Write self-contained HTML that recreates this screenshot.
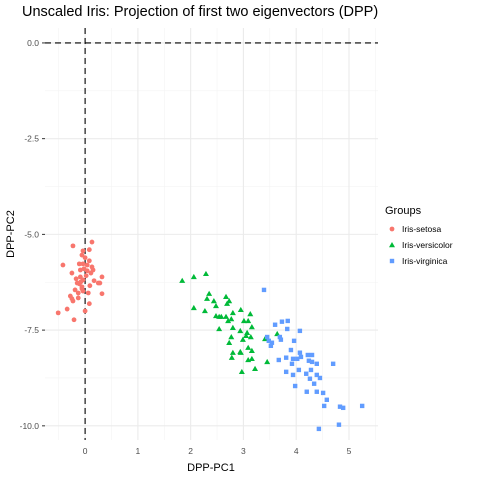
<!DOCTYPE html>
<html><head><meta charset="utf-8"><style>
body{margin:0;background:#fff;font-family:"Liberation Sans",sans-serif}
svg text{font-family:"Liberation Sans",sans-serif}
</style></head><body>
<svg id="chart" width="480" height="480">
<text x="22" y="16" font-size="14.5" fill="#000">Unscaled Iris: Projection of first two eigenvectors (DPP)</text>
<g id="grid"></g><g id="refs"></g><g id="pts"></g><g id="axes"></g>
<text x="211" y="471" font-size="11" text-anchor="middle">DPP-PC1</text>
<text transform="translate(14,234) rotate(-90)" font-size="11" text-anchor="middle">DPP-PC2</text>
<g>
<text x="385" y="214" font-size="11">Groups</text>
<g><circle cx="392" cy="229" r="2.4" fill="#F8766D"/><text x="402" y="232" font-size="8.5">Iris-setosa</text></g>
<g><polygon points="392,242 395,247.2 389,247.2" fill="#00BA38"/><text x="402" y="248" font-size="8.5">Iris-versicolor</text></g>
<g><rect x="389.8" y="258.8" width="4.4" height="4.4" fill="#619CFF"/><text x="402" y="264" font-size="8.5">Iris-virginica</text></g>
</g>
</svg>
<script>
const setosa=[[-0.23,-5.30],[0.13,-5.20],[0.08,-5.40],[-0.04,-5.43],[-0.06,-5.54],[-0.42,-5.80],[-0.11,-5.77],[-0.04,-5.77],[0.04,-5.80],[0.08,-5.69],[0.13,-5.85],[-0.02,-5.90],[0.15,-5.93],[-0.25,-6.01],[0.04,-5.95],[0.11,-6.01],[0.32,-6.11],[-0.17,-6.16],[-0.09,-6.11],[-0.04,-6.19],[0.17,-6.21],[0.25,-6.27],[0.28,-6.27],[-0.15,-6.27],[-0.11,-6.29],[-0.06,-6.37],[-0.06,-6.42],[-0.04,-6.48],[0.06,-6.53],[-0.13,-6.53],[0.32,-6.55],[-0.28,-6.61],[-0.13,-6.66],[-0.25,-6.68],[-0.23,-6.74],[0.08,-6.81],[-0.34,-6.95],[0.00,-7.00],[-0.51,-7.05],[-0.21,-7.23],[-0.09,-5.93],[0.02,-6.08],[-0.08,-6.24],[0.09,-6.34],[-0.19,-6.45],[0.00,-5.61]];
const versicolor=[[1.84,-6.21],[2.06,-6.11],[2.29,-6.03],[2.31,-6.68],[2.44,-6.74],[2.48,-6.87],[2.06,-6.92],[2.27,-7.00],[2.48,-7.13],[2.54,-7.15],[2.54,-7.47],[2.67,-6.63],[2.73,-6.74],[2.69,-6.81],[2.58,-7.15],[2.67,-7.15],[2.71,-7.26],[2.77,-7.21],[2.80,-7.05],[2.95,-6.97],[3.13,-7.08],[3.01,-7.26],[3.09,-7.26],[3.16,-7.42],[2.80,-7.44],[2.94,-7.52],[3.07,-7.57],[2.77,-7.68],[3.05,-7.65],[3.14,-7.68],[3.41,-7.73],[3.64,-7.60],[2.73,-7.83],[2.99,-7.75],[3.09,-7.96],[3.16,-8.04],[2.80,-8.09],[2.94,-8.07],[2.95,-8.09],[2.78,-8.22],[3.09,-8.28],[3.16,-8.25],[3.45,-8.33],[3.22,-8.51],[2.97,-8.59],[2.35,-6.55]];
const virginica=[[3.39,-6.45],[3.60,-7.36],[3.73,-7.28],[3.84,-7.26],[3.83,-7.47],[4.07,-7.52],[3.45,-7.68],[3.69,-7.68],[3.71,-7.75],[3.48,-7.78],[3.54,-7.83],[3.52,-7.91],[3.96,-7.78],[3.90,-8.02],[4.07,-8.09],[4.09,-8.20],[4.22,-8.15],[4.30,-8.15],[3.67,-8.28],[3.81,-8.22],[3.94,-8.25],[4.02,-8.25],[4.24,-8.30],[4.30,-8.33],[4.39,-8.38],[3.92,-8.38],[4.70,-8.38],[3.81,-8.59],[4.05,-8.54],[4.28,-8.54],[3.94,-8.67],[4.19,-8.64],[4.39,-8.67],[4.45,-8.75],[4.26,-8.77],[4.34,-8.90],[3.98,-8.96],[4.20,-9.11],[4.39,-9.11],[4.51,-9.14],[4.58,-9.32],[4.53,-9.48],[4.83,-9.50],[4.89,-9.53],[5.25,-9.48],[4.43,-10.08],[4.81,-9.97]];
const xTicks=[0,1,2,3,4,5];
const xTickLabels=["0","1","2","3","4","5"];
const yTicks=[0,-2.5,-5,-7.5,-10];
const yTickLabels=["0.0","-2.5","-5.0","-7.5","-10.0"];
const xDomain=[-0.76,5.55], yDomain=[-10.37,0.39];
const L=45,R=378,T=28,B=440;
const sx=v=>L+(v-xDomain[0])/(xDomain[1]-xDomain[0])*(R-L);
const sy=v=>B-(v-yDomain[0])/(yDomain[1]-yDomain[0])*(B-T);
const NS="http://www.w3.org/2000/svg";
function mk(tag,attrs,parent){const e=document.createElementNS(NS,tag);for(const k in attrs)e.setAttribute(k,attrs[k]);parent.appendChild(e);return e;}
const grid=document.getElementById('grid'),refs=document.getElementById('refs'),pts=document.getElementById('pts'),axes=document.getElementById('axes');
for(let i=0;i<xTicks.length+1;i++){const v=xTicks[0]-0.5+i;if(v<xDomain[0]||v>xDomain[1])continue;const l=mk('line',{x1:sx(v),x2:sx(v),y1:T,y2:B,stroke:'#f3f3f3','stroke-width':0.6},grid);}
for(let i=0;i<yTicks.length+1;i++){const v=yTicks[0]+1.25-2.5*i;if(v<yDomain[0]||v>yDomain[1])continue;const l=mk('line',{x1:L,x2:R,y1:sy(v),y2:sy(v),stroke:'#f3f3f3','stroke-width':0.6},grid);}
xTicks.forEach((v,i)=>{const l=mk('line',{x1:sx(v),x2:sx(v),y1:T,y2:B,stroke:'#ebebeb','stroke-width':1.1},grid);
const t=mk('text',{x:sx(v),y:B+14,'font-size':8.5,'text-anchor':'middle',fill:'#4d4d4d'},axes);t.textContent=xTickLabels[i];});
yTicks.forEach((v,i)=>{const l=mk('line',{x1:L,x2:R,y1:sy(v),y2:sy(v),stroke:'#ebebeb','stroke-width':1.1},grid);
const t=mk('text',{x:L-6,y:sy(v)+3,'font-size':8.5,'text-anchor':'end',fill:'#4d4d4d'},axes);t.textContent=yTickLabels[i];
const tk=mk('line',{x1:L-3,x2:L,y1:sy(v),y2:sy(v),stroke:'#333','stroke-width':1},axes);});
const h=mk('line',{x1:L,x2:R,y1:sy(0),y2:sy(0),stroke:'#000','stroke-width':1.1,'stroke-dasharray':'6,4'},refs);
const vl=mk('line',{x1:sx(0),x2:sx(0),y1:T,y2:B,stroke:'#000','stroke-width':1.1,'stroke-dasharray':'6,4'},refs);
setosa.forEach(p=>{const c=mk('circle',{cx:sx(p[0]),cy:sy(p[1]),r:2.4,fill:'#F8766D'},pts);});
versicolor.forEach(p=>{const x=sx(p[0]),y=sy(p[1]);const c=mk('polygon',{points:`${x},${y-3} ${x+3},${y+2.2} ${x-3},${y+2.2}`,fill:'#00BA38'},pts);});
virginica.forEach(p=>{const c=mk('rect',{x:sx(p[0])-2.2,y:sy(p[1])-2.2,width:4.4,height:4.4,fill:'#619CFF'},pts);});
</script>
</body></html>
